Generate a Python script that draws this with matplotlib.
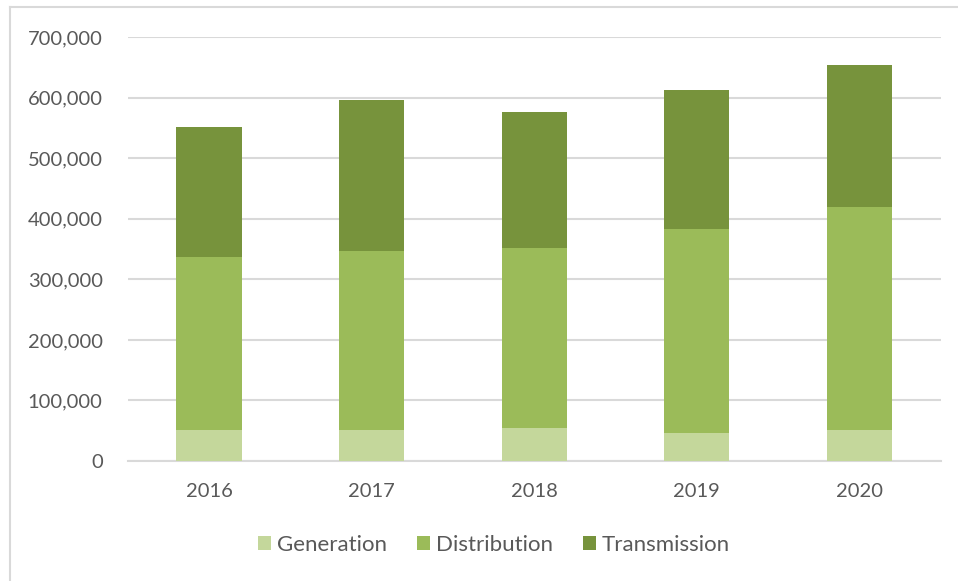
import matplotlib
matplotlib.use("Agg")
import matplotlib.pyplot as plt
import numpy as np
from matplotlib.ticker import FuncFormatter, MultipleLocator
from matplotlib.lines import Line2D

years = ["2016", "2017", "2018", "2019", "2020"]
generation = [52000, 52000, 54500, 46000, 52000]
distribution = [284000, 294500, 296500, 337000, 367000]
transmission = [216000, 249500, 226000, 230000, 234000]
series_names = ["Generation", "Distribution", "Transmission"]
colors = ["#C4D79B", "#9BBB59", "#77933C"]

plt.rcParams['font.family'] = ['Lato', 'DejaVu Sans']
text_color = "#595959"

fig = plt.figure(figsize=(9.58, 5.81), dpi=100)
ax = fig.add_axes([0.1333, 0.2065, 0.8487, 0.7298])

x = np.arange(len(years))
w = 0.4
gen = np.array(generation)
dist = np.array(distribution)
trans = np.array(transmission)
ax.bar(x, gen, w, color=colors[0], label=series_names[0], zorder=3)
ax.bar(x, dist, w, bottom=gen, color=colors[1], label=series_names[1], zorder=3)
ax.bar(x, trans, w, bottom=gen + dist, color=colors[2], label=series_names[2], zorder=3)

ax.set_xlim(-0.5, len(years) - 0.5)
ax.set_ylim(0, 700000)
ax.yaxis.set_major_locator(MultipleLocator(100000))
ax.yaxis.set_major_formatter(FuncFormatter(lambda v, p: f"{int(v):,}"))
ax.set_xticks(x)
ax.set_xticklabels(years)
ax.grid(axis='y', color="#D9D9D9", linewidth=1.5, zorder=0)
ax.set_axisbelow(True)
for s in ["top", "right", "left"]:
    ax.spines[s].set_visible(False)
ax.spines["bottom"].set_color("#D9D9D9")
ax.spines["bottom"].set_linewidth(1.5)
ax.tick_params(axis='both', length=0, colors=text_color, labelsize=14.5)
ax.tick_params(axis='y', pad=18)
ax.tick_params(axis='x', pad=16)

leg = fig.legend(loc='center', bbox_to_anchor=(494 / 958, 1 - 545 / 581), ncol=3, frameon=False,
                 fontsize=16, handlelength=0.6, handleheight=0.6, handletextpad=0.25,
                 columnspacing=1.35, labelcolor=text_color)

# outer frame lines (left and top)
fig.add_artist(Line2D([10 / 958, 10 / 958], [0, 1 - 7 / 581], transform=fig.transFigure, color="#D9D9D9", lw=1.5))
fig.add_artist(Line2D([10 / 958, 1], [1 - 7 / 581, 1 - 7 / 581], transform=fig.transFigure, color="#D9D9D9", lw=1.5))

fig.savefig("out.png", dpi=100)
